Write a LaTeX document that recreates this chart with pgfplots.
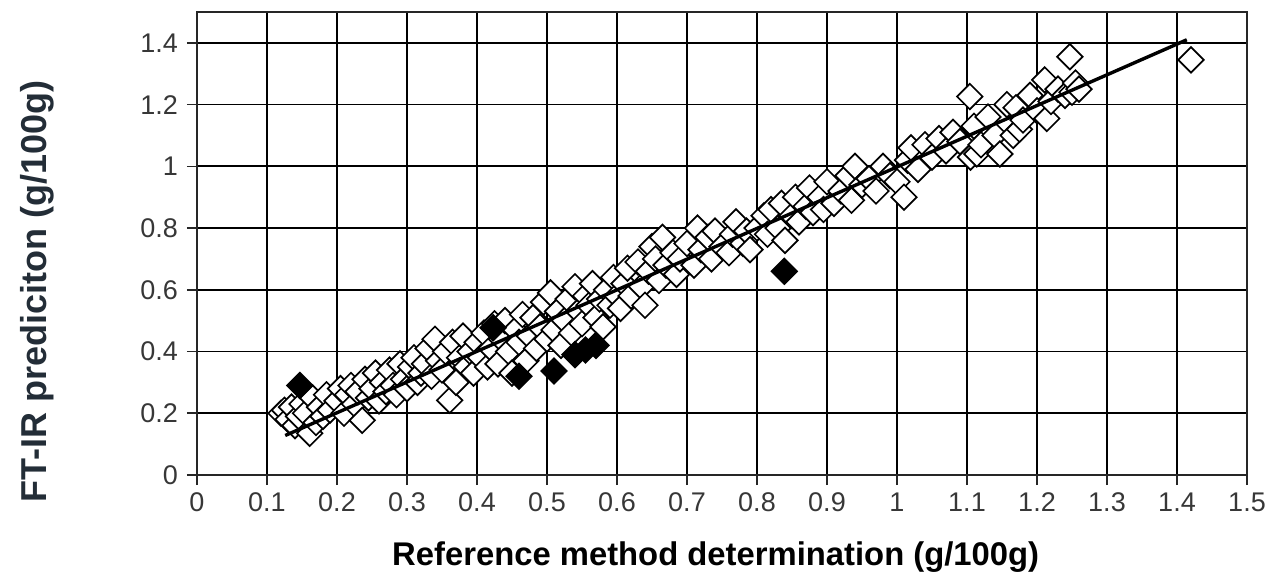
\documentclass[border=0pt]{standalone}
\usepackage{pgfplots}
\pgfplotsset{compat=1.18}
\usepackage{fontspec}
\setmainfont{Liberation Sans}
\definecolor{ticktxt}{RGB}{55,55,55}
\definecolor{ylab}{RGB}{35,45,55}
\begin{document}
\begin{tikzpicture}
\begin{axis}[
  set layers=standard,
  scale only axis,
  width=525pt, height=231.5pt,
  xmin=0, xmax=1.5, ymin=0, ymax=1.5,
  xtick={0,0.1,0.2,0.3,0.4,0.5,0.6,0.7,0.8,0.9,1,1.1,1.2,1.3,1.4,1.5},
  ytick={0,0.2,0.4,0.6,0.8,1,1.2,1.4},
  xticklabels={0,0.1,0.2,0.3,0.4,0.5,0.6,0.7,0.8,0.9,1,1.1,1.2,1.3,1.4,1.5},
  yticklabels={0,0.2,0.4,0.6,0.8,1,1.2,1.4},
  grid=major,
  major grid style={black, line width=0.85pt},
  axis line style={black!85, line width=0.9pt},
  tick align=outside,
  major tick length=5pt,
  tick style={black!85, line width=0.8pt},
  xtick pos=bottom, ytick pos=left,
  /pgf/number format/assume math mode=true,
  tick label style={font=\fontsize{13.5pt}{15pt}\selectfont, text=ticktxt},
  xticklabel style={yshift=-0.5pt},
  yticklabel style={xshift=-1pt},
  xlabel={Reference method determination (g/100g)},
  ylabel={FT-IR prediciton (g/100g)},
  xlabel style={at={(rel axis cs:0.494,0)}, anchor=center, yshift=-41pt, font=\fontsize{16.4pt}{19pt}\selectfont\bfseries, text=black},
  ylabel style={at={(rel axis cs:0,0.397)}, anchor=center, rotate=0, yshift=80pt, font=\fontsize{18pt}{20pt}\selectfont\bfseries, text=ylab},
  clip=false,
]
% open diamonds
\addplot[only marks, mark=square*, mark size=4.5pt, mark options={rotate=45, draw=black, fill=white, line width=0.85pt}] coordinates {
(0.12,0.20)(0.125,0.21)(0.13,0.18)(0.135,0.22)(0.14,0.16)(0.145,0.19)(0.15,0.23)(0.155,0.20)(0.161,0.135)(0.165,0.25)
(0.17,0.17)(0.175,0.22)(0.18,0.19)(0.185,0.26)(0.19,0.21)(0.20,0.24)(0.205,0.28)(0.21,0.20)(0.215,0.26)(0.22,0.29)
(0.225,0.23)(0.23,0.27)(0.236,0.177)(0.24,0.31)(0.245,0.25)(0.25,0.28)
(0.255,0.33)(0.26,0.24)(0.265,0.30)(0.27,0.27)(0.275,0.34)(0.28,0.29)(0.285,0.26)(0.29,0.36)(0.295,0.31)(0.30,0.28)
(0.305,0.35)(0.31,0.38)(0.315,0.30)(0.32,0.33)(0.325,0.36)(0.33,0.41)(0.335,0.32)(0.34,0.44)(0.345,0.37)(0.35,0.34)
(0.355,0.40)(0.361,0.242)(0.365,0.43)(0.37,0.30)(0.375,0.38)(0.38,0.45)(0.385,0.35)(0.39,0.40)(0.395,0.33)(0.40,0.43)
(0.405,0.38)(0.41,0.46)(0.415,0.35)(0.42,0.41)(0.425,0.49)(0.43,0.36)(0.435,0.44)(0.44,0.50)(0.445,0.40)(0.45,0.33)
(0.455,0.47)(0.46,0.43)(0.465,0.52)(0.47,0.37)(0.475,0.45)(0.48,0.51)(0.485,0.41)(0.49,0.48)(0.495,0.56)(0.50,0.44)
(0.505,0.59)(0.51,0.47)(0.515,0.53)(0.52,0.42)(0.525,0.50)(0.53,0.57)(0.535,0.46)(0.54,0.61)(0.545,0.53)(0.55,0.49)
(0.555,0.58)(0.56,0.55)(0.565,0.62)(0.57,0.51)(0.575,0.57)(0.58,0.48)(0.585,0.60)(0.59,0.55)(0.595,0.64)(0.60,0.58)
(0.605,0.54)(0.61,0.62)(0.615,0.67)(0.62,0.58)(0.63,0.69)(0.635,0.61)(0.64,0.55)(0.645,0.66)(0.65,0.74)(0.655,0.70)
(0.66,0.63)(0.665,0.77)(0.67,0.68)(0.68,0.72)(0.685,0.65)(0.69,0.70)(0.70,0.75)(0.71,0.68)(0.715,0.80)(0.72,0.73)
(0.73,0.77)(0.735,0.70)(0.74,0.79)(0.75,0.74)(0.76,0.72)(0.765,0.78)(0.77,0.82)(0.78,0.75)(0.785,0.79)(0.79,0.73)(0.80,0.80)
(0.81,0.84)(0.815,0.78)(0.82,0.86)(0.83,0.80)(0.835,0.88)(0.84,0.76)(0.85,0.84)(0.855,0.90)(0.86,0.82)(0.87,0.87)
(0.875,0.93)(0.88,0.85)(0.89,0.90)(0.895,0.86)(0.90,0.95)(0.91,0.88)(0.92,0.92)(0.93,0.97)(0.935,0.89)(0.94,1.00)
(0.95,0.94)(0.96,0.96)(0.97,0.92)(0.98,1.00)(0.99,0.97)(1.00,0.95)
(1.01,0.90)(1.015,1.02)(1.02,1.06)(1.03,0.99)(1.04,1.07)(1.05,1.03)(1.06,1.09)(1.07,1.05)(1.08,1.11)(1.09,1.08)
(1.104,1.226)(1.105,1.03)(1.114,1.04)(1.11,1.13)(1.12,1.07)(1.13,1.16)(1.14,1.10)(1.147,1.04)(1.157,1.20)(1.166,1.10)
(1.17,1.19)(1.175,1.12)(1.18,1.15)(1.19,1.23)(1.20,1.18)(1.211,1.28)(1.214,1.155)(1.22,1.21)(1.23,1.25)(1.24,1.23)
(1.247,1.355)(1.25,1.24)(1.255,1.27)(1.26,1.25)(1.42,1.345)
};
% filled diamonds
\addplot[only marks, mark=square*, mark size=4.5pt, mark options={rotate=45, draw=black, fill=black, line width=0.85pt}] coordinates {
(0.147,0.29)(0.423,0.477)(0.46,0.32)(0.51,0.337)(0.54,0.39)(0.555,0.405)(0.57,0.42)(0.839,0.66)
};
% regression line
\addplot[black, line width=1.7pt, mark=none, on layer=axis foreground] coordinates {(0.126,0.128)(1.414,1.41)};
\end{axis}
\pgfresetboundingbox
\path[use as bounding box] ([shift={(-98.5pt,-52pt)}]current axis.south west) rectangle ([shift={(14.5pt,6pt)}]current axis.north east);
\end{tikzpicture}
\end{document}
